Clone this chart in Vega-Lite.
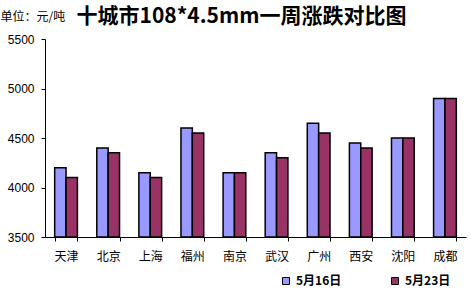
{
  "$schema": "https://vega.github.io/schema/vega-lite/v6.json",
  "width": 421,
  "height": 198,
  "autosize": {"type": "none"},
  "padding": {"left": 45, "top": 39, "right": 5, "bottom": 59},
  "background": "white",
  "title": {
    "text": "十城市108*4.5mm一周涨跌对比图",
    "font": "Noto Sans CJK SC",
    "fontSize": 21,
    "fontWeight": "bold",
    "color": "black",
    "anchor": "middle",
    "dx": -14,
    "offset": -17
  },
  "data": {
    "values": [
      {"city": "天津", "date": "5月16日", "value": 4200},
      {"city": "天津", "date": "5月23日", "value": 4100},
      {"city": "北京", "date": "5月16日", "value": 4400},
      {"city": "北京", "date": "5月23日", "value": 4350},
      {"city": "上海", "date": "5月16日", "value": 4150},
      {"city": "上海", "date": "5月23日", "value": 4100},
      {"city": "福州", "date": "5月16日", "value": 4600},
      {"city": "福州", "date": "5月23日", "value": 4550},
      {"city": "南京", "date": "5月16日", "value": 4150},
      {"city": "南京", "date": "5月23日", "value": 4150},
      {"city": "武汉", "date": "5月16日", "value": 4350},
      {"city": "武汉", "date": "5月23日", "value": 4300},
      {"city": "广州", "date": "5月16日", "value": 4650},
      {"city": "广州", "date": "5月23日", "value": 4550},
      {"city": "西安", "date": "5月16日", "value": 4450},
      {"city": "西安", "date": "5月23日", "value": 4400},
      {"city": "沈阳", "date": "5月16日", "value": 4500},
      {"city": "沈阳", "date": "5月23日", "value": 4500},
      {"city": "成都", "date": "5月16日", "value": 4900},
      {"city": "成都", "date": "5月23日", "value": 4900}
    ]
  },
  "mark": {"type": "bar", "stroke": "black", "strokeWidth": 1.5},
  "encoding": {
    "x": {
      "field": "city",
      "type": "nominal",
      "sort": null,
      "scale": {"paddingInner": 0.46, "paddingOuter": 0.23},
      "axis": {
        "title": null,
        "labelAngle": 0,
        "ticks": true,
        "tickBand": "extent",
        "tickSize": 4,
        "tickWidth": 1,
        "tickColor": "black",
        "domainColor": "black",
        "labelFont": "Noto Sans CJK SC",
        "labelFontSize": 12,
        "labelColor": "black",
        "labelPadding": 10,
        "zindex": 1
      }
    },
    "xOffset": {"field": "date", "type": "nominal", "scale": {"paddingInner": 0, "paddingOuter": 0}},
    "y": {
      "field": "value",
      "type": "quantitative",
      "scale": {"domain": [3500, 5500], "nice": false, "zero": false},
      "axis": {
        "values": [3500, 4000, 4500, 5000, 5500],
        "format": "d",
        "grid": false,
        "ticks": true,
        "tickSize": 4,
        "tickWidth": 1,
        "tickColor": "black",
        "domainColor": "black",
        "labelFont": "Liberation Sans",
        "labelFontSize": 12,
        "labelColor": "black",
        "labelPadding": 7,
        "title": "单位：元/吨",
        "titleAngle": 0,
        "titleAlign": "left",
        "titleBaseline": "middle",
        "titleFont": "Noto Sans CJK SC",
        "titleFontSize": 12,
        "titleFontWeight": "normal",
        "titleColor": "black",
        "titleX": -45,
        "titleY": -23,
        "zindex": 1
      }
    },
    "y2": {"datum": 3500},
    "color": {
      "field": "date",
      "type": "nominal",
      "scale": {"domain": ["5月16日", "5月23日"], "range": ["#9999FF", "#993366"]},
      "legend": {
        "title": null,
        "orient": "none",
        "direction": "horizontal",
        "legendX": 235,
        "legendY": 236,
        "symbolType": "square",
        "symbolSize": 49,
        "symbolStrokeColor": "black",
        "symbolStrokeWidth": 1,
        "labelFont": "Noto Sans CJK SC",
        "labelFontSize": 12,
        "labelFontWeight": "bold",
        "labelColor": "black",
        "labelOffset": 4,
        "columnPadding": 47
      }
    }
  },
  "config": {"view": {"stroke": null}}
}
